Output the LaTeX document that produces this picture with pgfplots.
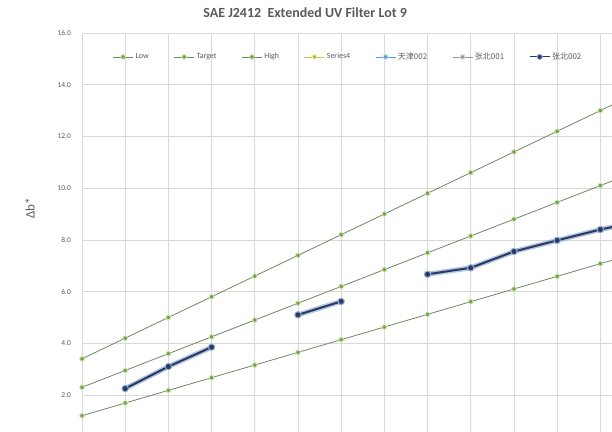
\documentclass[border=0pt]{standalone}
\usepackage{pgfplots}
\pgfplotsset{compat=1.18}
\usepackage{pgfplotstable}
\usepackage{fontspec}
\setmainfont{Carlito}
\newfontfamily\cjk{Noto Sans CJK SC}
\definecolor{txtgray}{RGB}{89,89,89}
\definecolor{gridgray}{RGB}{217,217,217}
\definecolor{gline}{RGB}{115,132,98}
\definecolor{gfill}{RGB}{112,162,70}
\definecolor{ghalo}{RGB}{200,228,170}
\definecolor{navy}{RGB}{38,58,102}
\definecolor{navyglow}{RGB}{150,172,205}
\definecolor{ltblue}{RGB}{91,155,213}
\definecolor{s4yellow}{RGB}{230,230,60}
\definecolor{s4halo}{RGB}{240,245,170}
\definecolor{mgray}{RGB}{150,150,150}

\pgfplotstableread{
x Low Target High Blue
0 1.20 2.30 3.4 nan
1 1.69 2.95 4.2 2.25
2 2.18 3.60 5.0 3.10
3 2.67 4.25 5.8 3.85
4 3.16 4.90 6.6 nan
5 3.65 5.55 7.4 5.10
6 4.14 6.20 8.2 5.62
7 4.63 6.85 9.0 nan
8 5.12 7.50 9.8 6.67
9 5.61 8.15 10.6 6.92
10 6.10 8.80 11.4 7.55
11 6.59 9.45 12.2 7.98
12 7.08 10.10 13.0 8.40
13 7.57 10.75 13.8 8.75
}\datatable

\begin{document}
\begin{tikzpicture}
\useasboundingbox (0,0) rectangle (612bp,432bp);
\begin{axis}[
  at={(82bp,0bp)}, anchor=south west,
  scale only axis, width=530bp, height=399bp,
  xmin=0, xmax=12.27, ymin=0.57, ymax=16,
  clip=false,
  unbounded coords=jump,
  axis line style={draw=none},
  xtick={0,1,...,12}, xticklabels={},
  ytick={2,4,...,16},
  major tick length=0pt,
  grid=major,
  major grid style={gridgray, line width=0.6pt},
  /pgf/number format/assume math mode=true,
  yticklabel={\pgfmathprintnumber[fixed,fixed zerofill,precision=1]{\tick}},
  yticklabel style={font=\fontsize{7.5}{8}\selectfont, text=txtgray, anchor=east, inner sep=0pt, xshift=-11bp},
  ylabel={Δb*},
  every axis y label/.style={at={(axis description cs:-0.098,0.561)}, anchor=center, rotate=90, font=\fontsize{13}{15}\selectfont, text=txtgray},
  title={SAE J2412\ \ Extended UV Filter Lot 9},
  title style={at={(axis description cs:0.421,1.037)}, anchor=center, font=\bfseries\fontsize{14}{16}\selectfont, text=txtgray},
  legend columns=7,
  legend style={draw=none, fill=none, at={(axis description cs:0.502,0.94)}, anchor=center,
    font=\fontsize{8}{9}\selectfont, text=txtgray,
    /tikz/every even column/.append style={column sep=23bp},
    legend image code/.code={\draw[mark repeat=2,mark phase=2] plot coordinates {(0bp,0bp) (10bp,0bp) (20bp,0bp)};}},
]
\addplot[gline, line width=0.8pt, mark=*, mark size=2.3pt, mark options={fill=gfill, draw=ghalo, line width=0.9pt}] table[x=x,y=Low]{\datatable};
\addlegendentry{Low}
\addplot[gline, line width=0.8pt, mark=*, mark size=2.3pt, mark options={fill=gfill, draw=ghalo, line width=0.9pt}] table[x=x,y=Target]{\datatable};
\addlegendentry{Target}
\addplot[gline, line width=0.8pt, mark=*, mark size=2.3pt, mark options={fill=gfill, draw=ghalo, line width=0.9pt}] table[x=x,y=High]{\datatable};
\addlegendentry{High}
\addlegendimage{s4yellow!70!gray, line width=0.8pt, mark=*, mark size=2.3pt, mark options={fill=s4yellow!80!black, draw=s4halo, line width=0.9pt}}
\addlegendentry{Series4}
\addlegendimage{ltblue, line width=0.8pt, mark=*, mark size=2.3pt, mark options={fill=ltblue, draw=ltblue!40, line width=0.9pt}}
\addlegendentry{\cjk 天津002}
\addlegendimage{mgray, line width=0.8pt, mark=*, mark size=2.3pt, mark options={fill=mgray, draw=mgray!40, line width=0.9pt}}
\addlegendentry{\cjk 张北001}
\addplot[navyglow, opacity=0.7, line width=5pt, line join=round, line cap=round, forget plot] table[x=x,y=Blue]{\datatable};
\addlegendimage{navy, line width=1pt, mark=*, mark size=2.6pt, mark options={fill=navy, draw=navyglow, line width=0.9pt}}
\addlegendentry{\cjk 张北002}
\addplot[navy, line width=2pt, mark=*, mark size=3.2pt, mark options={fill=navy, draw=navyglow, line width=1pt}, forget plot] table[x=x,y=Blue]{\datatable};
\end{axis}
\end{tikzpicture}
\end{document}
